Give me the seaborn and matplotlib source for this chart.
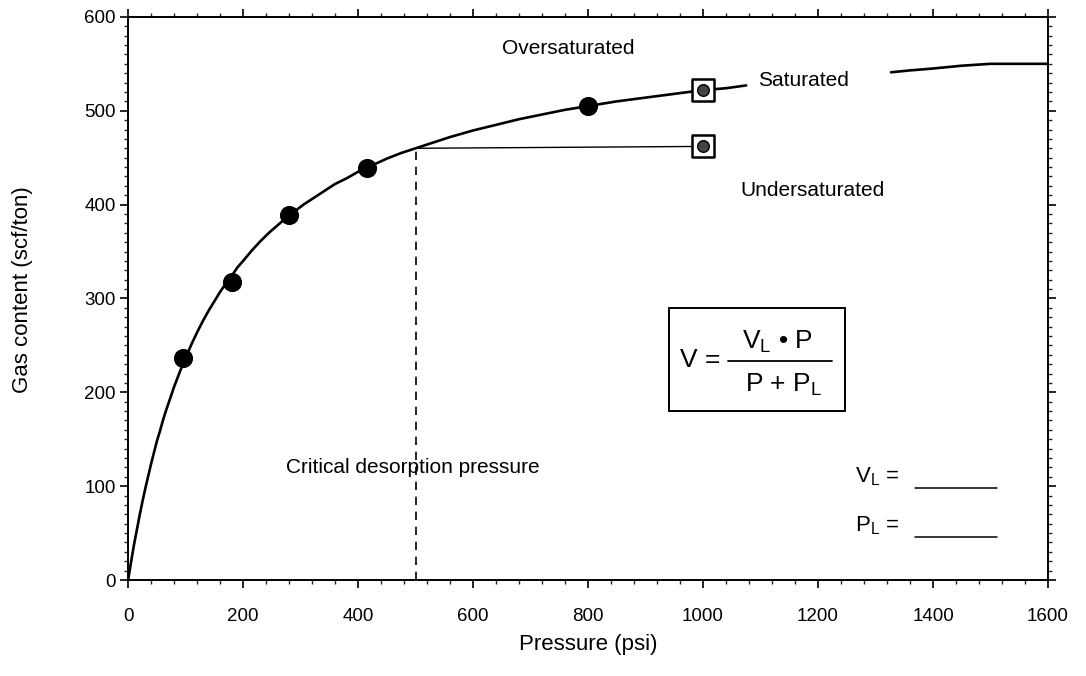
import numpy as np
import pandas as pd
import matplotlib
matplotlib.use("Agg")
import matplotlib.pyplot as plt
from matplotlib.patches import Rectangle
from matplotlib.ticker import MultipleLocator
import seaborn as sns

# Measured gas content (filled circles)
meas_pressure = [95, 180, 280, 415, 800]
meas_gas = [237, 317, 389, 439, 505]

# Samples at 1000 psi (boxed markers): saturated and undersaturated
sample_pressure = [1000, 1000]
sample_gas = [522, 462]

# Langmuir isotherm trace, drawn in two pieces around the "Saturated" label
iso_left_p = [0, 5, 10, 15, 20, 25, 30, 35, 40, 45, 50, 55, 60, 65, 70, 75, 80,
              90, 100, 110, 120, 130, 140, 150, 160, 170, 180, 190, 200, 215,
              230, 245, 260, 275, 290, 305, 320, 340, 360, 380, 400, 425, 450,
              475, 500, 530, 560, 600, 640, 680, 720, 760, 800, 850, 900, 950,
              1000, 1040, 1075]
iso_left_v = [0, 19, 37, 53, 69, 84, 98, 111, 124, 136, 148, 158, 169, 179, 188,
              197, 206, 222, 237, 251, 264, 276, 287, 297, 307, 316, 324, 333,
              340, 351, 361, 370, 378, 386, 393, 400, 406, 414, 422, 428, 435,
              442, 449, 455, 460, 466, 472, 479, 485, 491, 496, 501, 505, 510,
              514, 518, 522, 524, 527]
iso_right_p = [1327, 1360, 1400, 1450, 1500, 1550, 1600]
iso_right_v = [541, 543, 545, 548, 550, 550, 550]

# Critical desorption pressure and its gas content
crit_p = 500
crit_v = 460

sns.set_theme(style="white")
plt.rcParams["font.family"] = ["Liberation Sans", "DejaVu Sans"]
plt.rcParams["mathtext.fontset"] = "custom"
plt.rcParams["mathtext.rm"] = "Liberation Sans"
plt.rcParams["mathtext.it"] = "Liberation Sans"
plt.rcParams["mathtext.bf"] = "Liberation Sans:bold"

fig = plt.figure(figsize=(10.86, 6.76), dpi=100)
ax = fig.add_axes([0.118, 0.142, 0.847, 0.833])

iso = pd.DataFrame({
    "p": iso_left_p + iso_right_p,
    "v": iso_left_v + iso_right_v,
    "seg": ["a"] * len(iso_left_p) + ["b"] * len(iso_right_p),
})
sns.lineplot(data=iso, x="p", y="v", units="seg", estimator=None, sort=False,
             color="black", lw=1.9, ax=ax)

# Undersaturated path and critical pressure drop line
sns.lineplot(x=[crit_p, sample_pressure[1]], y=[crit_v, sample_gas[1]],
             color="black", lw=1.0, ax=ax)
ax.plot([crit_p, crit_p], [0, crit_v], color="black", lw=1.2,
        linestyle=(0, (5, 4)))

sns.scatterplot(x=meas_pressure, y=meas_gas, color="black", s=190,
                edgecolor="black", linewidth=0, ax=ax, zorder=5)
sns.scatterplot(x=sample_pressure, y=sample_gas, marker="s", s=260,
                facecolor="white", edgecolor="black", linewidth=1.8,
                ax=ax, zorder=6)
sns.scatterplot(x=sample_pressure, y=sample_gas, marker="o", s=70,
                facecolor="#444444", edgecolor="black", linewidth=1.0,
                ax=ax, zorder=7)

ax.set_xlim(0, 1600)
ax.set_ylim(0, 600)
ax.xaxis.set_major_locator(MultipleLocator(200))
ax.xaxis.set_minor_locator(MultipleLocator(40))
ax.yaxis.set_major_locator(MultipleLocator(100))
ax.yaxis.set_minor_locator(MultipleLocator(10))

ax.tick_params(axis="both", which="major", direction="out", length=6,
               width=1.2, labelsize=13.5, colors="black",
               top=True, right=True, bottom=True, left=True)
ax.tick_params(axis="both", which="minor", direction="out", length=3,
               width=1.0, top=True, right=True, bottom=True, left=True)
ax.tick_params(axis="x", pad=14)
ax.tick_params(axis="y", pad=3)

for side in ["left", "right", "top", "bottom"]:
    ax.spines[side].set_visible(True)
    ax.spines[side].set_color("black")
    ax.spines[side].set_linewidth(1.4)

ax.set_xlabel("Pressure (psi)", fontsize=16, color="black")
ax.set_ylabel("Gas content (scf/ton)", fontsize=16, color="black")
ax.xaxis.set_label_coords(0.5, -0.095)
ax.yaxis.set_label_coords(-0.103, 0.515)

txt = dict(fontsize=15, color="black", ha="center", va="center")
ax.text(765, 566, "Oversaturated", **txt)
ax.text(1174, 532, "Saturated", **txt)
ax.text(1190, 415, "Undersaturated", **txt)
ax.text(495, 120, "Critical desorption pressure", **txt)

# Langmuir equation panel
tA = ax.transAxes
ax.add_patch(Rectangle((0.588, 0.300), 0.191, 0.183, transform=tA,
                       facecolor="white", edgecolor="black", lw=1.4, zorder=8))
eq = dict(fontsize=19, color="black", va="center", transform=tA, zorder=9)
ax.text(0.622, 0.391, "V =", ha="center", **eq)
ax.text(0.706, 0.423, r"V$_\mathrm{L}$ • P", ha="center", **eq)
ax.text(0.713, 0.347, r"P + P$_\mathrm{L}$", ha="center", **eq)
ax.plot([0.652, 0.765], [0.389, 0.389], color="black", lw=1.3,
        transform=tA, zorder=9)

# Blank fields for the Langmuir constants
ax.text(0.790, 0.183, r"V$_\mathrm{L}$ =", fontsize=16, color="black",
        ha="left", va="center", transform=tA)
ax.text(0.790, 0.097, r"P$_\mathrm{L}$ =", fontsize=16, color="black",
        ha="left", va="center", transform=tA)
ax.plot([0.855, 0.945], [0.163, 0.163], color="black", lw=1.1, transform=tA)
ax.plot([0.855, 0.945], [0.076, 0.076], color="black", lw=1.1, transform=tA)

fig.savefig("out.png", dpi=100, facecolor="white")
